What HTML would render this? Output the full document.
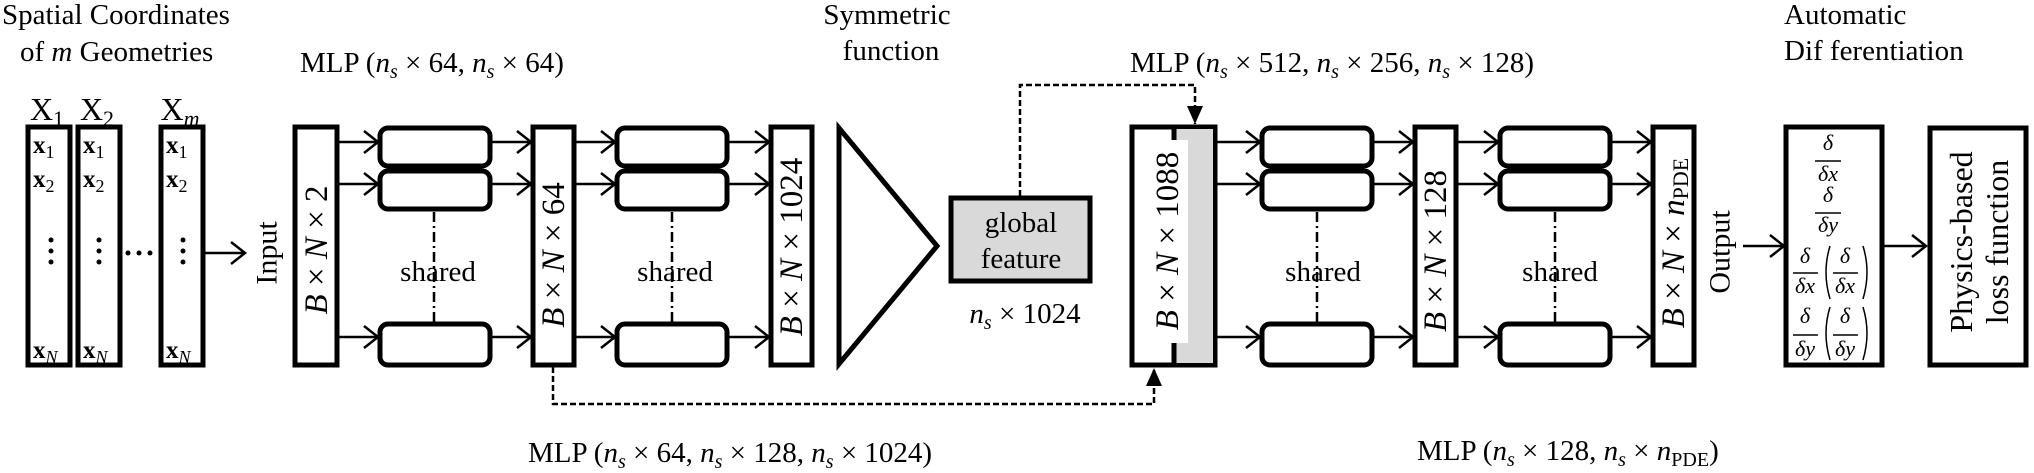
<!DOCTYPE html>
<html><head><meta charset="utf-8"><style>
html,body{margin:0;padding:0;background:#fff;}
svg{display:block;font-family:"Liberation Serif",serif;}
</style></head><body>
<svg width="2034" height="473" viewBox="0 0 2034 473" xmlns="http://www.w3.org/2000/svg">
<defs>
<marker id="chev" markerUnits="userSpaceOnUse" markerWidth="18" markerHeight="24" refX="15" refY="12" orient="auto">
<path d="M1,1 L15,12 L1,23" fill="none" stroke="#000" stroke-width="2.5"/>
</marker>
<marker id="tri" markerUnits="userSpaceOnUse" markerWidth="20" markerHeight="20" refX="18" refY="10" orient="auto">
<path d="M0,2 L18,10 L0,18 Z" fill="#000"/>
</marker>
</defs>

<g font-size="29" fill="#000">
<text x="2" y="24">Spatial Coordinates</text>
<text x="20" y="61">of <tspan font-style="italic">m</tspan> Geometries</text>
<text x="300" y="72">MLP (<tspan font-style="italic">n<tspan font-size="20" dy="6">s</tspan></tspan><tspan dy="-6"> × 64, </tspan><tspan font-style="italic">n<tspan font-size="20" dy="6">s</tspan></tspan><tspan dy="-6"> × 64)</tspan></text>
<text x="887" y="24" text-anchor="middle">Symmetric</text>
<text x="891" y="60" text-anchor="middle">function</text>
<text x="1130" y="72">MLP (<tspan font-style="italic">n<tspan font-size="20" dy="6">s</tspan></tspan><tspan dy="-6"> × 512, </tspan><tspan font-style="italic">n<tspan font-size="20" dy="6">s</tspan></tspan><tspan dy="-6"> × 256, </tspan><tspan font-style="italic">n<tspan font-size="20" dy="6">s</tspan></tspan><tspan dy="-6"> × 128)</tspan></text>
<text x="1784" y="24">Automatic</text>
<text x="1784" y="60">Dif ferentiation</text>
<text x="528" y="462">MLP (<tspan font-style="italic">n<tspan font-size="20" dy="6">s</tspan></tspan><tspan dy="-6"> × 64, </tspan><tspan font-style="italic">n<tspan font-size="20" dy="6">s</tspan></tspan><tspan dy="-6"> × 128, </tspan><tspan font-style="italic">n<tspan font-size="20" dy="6">s</tspan></tspan><tspan dy="-6"> × 1024)</tspan></text>
<text x="1417" y="460">MLP (<tspan font-style="italic">n<tspan font-size="20" dy="6">s</tspan></tspan><tspan dy="-6"> × 128, </tspan><tspan font-style="italic">n<tspan font-size="20" dy="6">s</tspan></tspan><tspan dy="-6"> × </tspan><tspan font-style="italic">n</tspan><tspan font-size="20" dy="6">PDE</tspan><tspan dy="-6">)</tspan></text>
<text x="1025" y="323" text-anchor="middle"><tspan font-style="italic">n<tspan font-size="20" dy="6">s</tspan></tspan><tspan dy="-6"> × 1024</tspan></text>
</g>

<g font-size="32">
<text x="47" y="120" text-anchor="middle">X<tspan font-size="22" dy="6">1</tspan></text>
<text x="97" y="120" text-anchor="middle">X<tspan font-size="22" dy="6">2</tspan></text>
<text x="180" y="120" text-anchor="middle">X<tspan font-size="22" dy="6" font-style="italic">m</tspan></text>
<rect x="28" y="127" width="42" height="238" fill="#fff" stroke="#000" stroke-width="5"/>
<rect x="78" y="127" width="42" height="238" fill="#fff" stroke="#000" stroke-width="5"/>
<rect x="161" y="127" width="42" height="238" fill="#fff" stroke="#000" stroke-width="5"/>
<g font-size="25" font-weight="bold">
<text x="33" y="153">x<tspan font-size="18" font-weight="normal" dy="5">1</tspan></text>
<text x="33" y="187">x<tspan font-size="18" font-weight="normal" dy="5">2</tspan></text>
<text x="33" y="358">x<tspan font-size="18" font-weight="normal" font-style="italic" dy="5">N</tspan></text>
<text x="83" y="153">x<tspan font-size="18" font-weight="normal" dy="5">1</tspan></text>
<text x="83" y="187">x<tspan font-size="18" font-weight="normal" dy="5">2</tspan></text>
<text x="83" y="358">x<tspan font-size="18" font-weight="normal" font-style="italic" dy="5">N</tspan></text>
<text x="166" y="153">x<tspan font-size="18" font-weight="normal" dy="5">1</tspan></text>
<text x="166" y="187">x<tspan font-size="18" font-weight="normal" dy="5">2</tspan></text>
<text x="166" y="358">x<tspan font-size="18" font-weight="normal" font-style="italic" dy="5">N</tspan></text>
</g>
<g fill="#000">
<circle cx="51" cy="240" r="2.5"/><circle cx="51" cy="251" r="2.5"/><circle cx="51" cy="262" r="2.5"/>
<circle cx="99" cy="240" r="2.5"/><circle cx="99" cy="251" r="2.5"/><circle cx="99" cy="262" r="2.5"/>
<circle cx="183" cy="240" r="2.5"/><circle cx="183" cy="251" r="2.5"/><circle cx="183" cy="262" r="2.5"/>
<circle cx="128" cy="253" r="2.5"/><circle cx="139" cy="253" r="2.5"/><circle cx="150" cy="253" r="2.5"/>
</g>
</g>
<line x1="205" y1="253" x2="245" y2="253" stroke="#000" stroke-width="2.5" marker-end="url(#chev)"/>
<text transform="translate(267,253) rotate(-90)" text-anchor="middle" dominant-baseline="central" font-size="30">Input</text>

<g stroke="#000" stroke-width="5" fill="#fff">
<rect x="295" y="127" width="42" height="238"/>
<rect x="533" y="127" width="41" height="238"/>
<rect x="771" y="127" width="41" height="238"/>
<rect x="1415" y="127" width="41" height="238"/>
<rect x="1653" y="127" width="41" height="238"/>
<rect x="1786" y="127" width="96" height="238"/>
<rect x="1930" y="128" width="96" height="237"/>
<rect x="1132" y="127" width="83" height="238"/>
</g>
<rect x="1175" y="129" width="38" height="234" fill="#d9d9d9"/>
<line x1="1174" y1="127" x2="1174" y2="365" stroke="#000" stroke-width="5"/>
<rect x="1146" y="140" width="42" height="203" fill="#fff"/>

<g font-size="33">
<text transform="translate(317,250) rotate(-90)" text-anchor="middle" dominant-baseline="central"><tspan font-style="italic">B</tspan> × <tspan font-style="italic">N</tspan> × 2</text>
<text transform="translate(554,255) rotate(-90)" text-anchor="middle" dominant-baseline="central"><tspan font-style="italic">B</tspan> × <tspan font-style="italic">N</tspan> × 64</text>
<text transform="translate(792,247) rotate(-90)" text-anchor="middle" dominant-baseline="central"><tspan font-style="italic">B</tspan> × <tspan font-style="italic">N</tspan> × 1024</text>
<text transform="translate(1168,241) rotate(-90)" text-anchor="middle" dominant-baseline="central"><tspan font-style="italic">B</tspan> × <tspan font-style="italic">N</tspan> × 1088</text>
<text transform="translate(1436,251) rotate(-90)" text-anchor="middle" dominant-baseline="central"><tspan font-style="italic">B</tspan> × <tspan font-style="italic">N</tspan> × 128</text>
<text transform="translate(1674,243) rotate(-90)" text-anchor="middle" dominant-baseline="central"><tspan font-style="italic">B</tspan> × <tspan font-style="italic">N</tspan> × <tspan font-style="italic">n</tspan><tspan font-size="22" dy="6">PDE</tspan></text>
</g>
<g font-size="30">
<text transform="translate(1720,252) rotate(-90)" text-anchor="middle" dominant-baseline="central">Output</text>
<text transform="translate(1961,242) rotate(-90)" text-anchor="middle" dominant-baseline="central" font-size="32">Physics-based</text>
<text transform="translate(1997,242) rotate(-90)" text-anchor="middle" dominant-baseline="central" font-size="32">loss function</text>
</g>

<g stroke="#000" stroke-width="5" fill="#fff">
<g>
<rect x="380" y="128" width="110" height="38" rx="8"/><rect x="380" y="171" width="110" height="38" rx="8"/><rect x="380" y="324" width="110" height="41" rx="8"/></g>
<g>
<rect x="617" y="128" width="110" height="38" rx="8"/><rect x="617" y="171" width="110" height="38" rx="8"/><rect x="617" y="324" width="110" height="41" rx="8"/></g>
<g>
<rect x="1262" y="128" width="110" height="38" rx="8"/><rect x="1262" y="171" width="110" height="38" rx="8"/><rect x="1262" y="324" width="110" height="41" rx="8"/></g>
<g>
<rect x="1500" y="128" width="110" height="38" rx="8"/><rect x="1500" y="171" width="110" height="38" rx="8"/><rect x="1500" y="324" width="110" height="41" rx="8"/></g>
</g>
<g stroke="#000" stroke-width="2.5" stroke-dasharray="10,4,2,4">
<line x1="434" y1="212" x2="434" y2="322"/><line x1="672" y1="212" x2="672" y2="322"/>
<line x1="1317" y1="212" x2="1317" y2="322"/><line x1="1555" y1="212" x2="1555" y2="322"/>
</g>
<g font-size="29" text-anchor="middle">
<text x="438" y="281">shared</text>
<text x="675" y="281">shared</text>
<text x="1323" y="281">shared</text>
<text x="1560" y="281">shared</text>
</g>

<g stroke="#000" stroke-width="2.5" marker-end="url(#chev)">
<line x1="339" y1="142" x2="378" y2="142"/><line x1="339" y1="184" x2="378" y2="184"/><line x1="339" y1="337" x2="378" y2="337"/>
<line x1="492" y1="142" x2="531" y2="142"/><line x1="492" y1="184" x2="531" y2="184"/><line x1="492" y1="337" x2="531" y2="337"/>
<line x1="576" y1="142" x2="615" y2="142"/><line x1="576" y1="184" x2="615" y2="184"/><line x1="576" y1="337" x2="615" y2="337"/>
<line x1="729" y1="142" x2="769" y2="142"/><line x1="729" y1="184" x2="769" y2="184"/><line x1="729" y1="337" x2="769" y2="337"/>
<line x1="1217" y1="142" x2="1260" y2="142"/><line x1="1217" y1="184" x2="1260" y2="184"/><line x1="1217" y1="337" x2="1260" y2="337"/>
<line x1="1374" y1="142" x2="1413" y2="142"/><line x1="1374" y1="184" x2="1413" y2="184"/><line x1="1374" y1="337" x2="1413" y2="337"/>
<line x1="1458" y1="142" x2="1498" y2="142"/><line x1="1458" y1="184" x2="1498" y2="184"/><line x1="1458" y1="337" x2="1498" y2="337"/>
<line x1="1612" y1="142" x2="1651" y2="142"/><line x1="1612" y1="184" x2="1651" y2="184"/><line x1="1612" y1="337" x2="1651" y2="337"/>
<line x1="1743" y1="246" x2="1784" y2="246"/>
<line x1="1884" y1="246" x2="1926" y2="246"/>
</g>

<polygon points="839,128 937,246 839,364" fill="#fff" stroke="#000" stroke-width="5"/>
<rect x="951" y="198" width="139" height="83" fill="#d9d9d9" stroke="#000" stroke-width="5"/>
<text x="1021" y="232" text-anchor="middle" font-size="29">global</text>
<text x="1021" y="268" text-anchor="middle" font-size="29">feature</text>

<path d="M1020,196 L1020,85 L1195,85 L1195,124" fill="none" stroke="#000" stroke-width="2.5" stroke-dasharray="6,3" marker-end="url(#tri)"/>
<path d="M553,367 L553,404 L1154,404 L1154,368" fill="none" stroke="#000" stroke-width="2.5" stroke-dasharray="6,3" marker-end="url(#tri)"/>

<g font-size="22" font-style="italic" text-anchor="middle">
<text x="1828" y="150">δ</text><line x1="1815" y1="161" x2="1841" y2="161" stroke="#000" stroke-width="1.5"/><text x="1828" y="181">δx</text>
<text x="1828" y="202">δ</text><line x1="1815" y1="213" x2="1841" y2="213" stroke="#000" stroke-width="1.5"/><text x="1828" y="232">δy</text>
<text x="1805" y="263">δ</text><line x1="1793" y1="273" x2="1818" y2="273" stroke="#000" stroke-width="1.5"/><text x="1805" y="293">δx</text>
<text x="1845" y="263">δ</text><line x1="1833" y1="273" x2="1858" y2="273" stroke="#000" stroke-width="1.5"/><text x="1845" y="293">δx</text>
<text x="1805" y="323">δ</text><line x1="1793" y1="335" x2="1818" y2="335" stroke="#000" stroke-width="1.5"/><text x="1805" y="356">δy</text>
<text x="1845" y="323">δ</text><line x1="1833" y1="335" x2="1858" y2="335" stroke="#000" stroke-width="1.5"/><text x="1845" y="356">δy</text>
<path d="M1830,246 Q1822,272 1830,299 M1863,246 Q1871,272 1863,299 M1830,307 Q1822,333 1830,360 M1863,307 Q1871,333 1863,360" fill="none" stroke="#000" stroke-width="1.5"/>
</g>
</svg>
</body></html>
